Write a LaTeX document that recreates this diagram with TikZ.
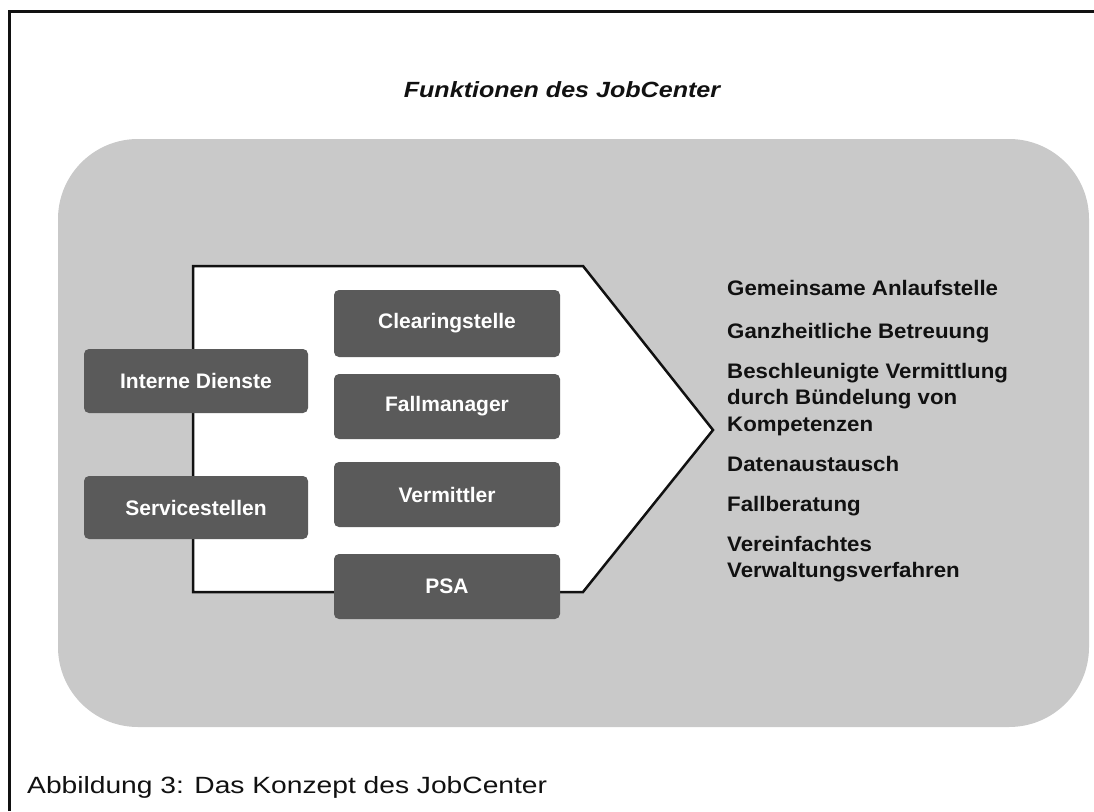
\documentclass[tikz,border=0pt]{standalone}
\usepackage{fontspec}
\setmainfont{Liberation Sans}
\newfontfamily\titlefont[FakeStretch=1.14]{Liberation Sans}
\newfontfamily\itemfont[FakeStretch=1.06]{Liberation Sans}
\newfontfamily\capfont[FakeStretch=1.2]{Liberation Sans}
\definecolor{panelgray}{HTML}{C9C9C9}
\definecolor{boxgray}{HTML}{5A5A5A}
\definecolor{inkblack}{HTML}{111111}
\tikzset{
  unitbox/.style={fill=boxgray, rounded corners=5pt, inner sep=0pt,
    text=white, font=\fontsize{21}{24}\selectfont\bfseries},
  item/.style={anchor=base west, inner sep=0pt, text=inkblack,
    font=\itemfont\fontsize{21}{26}\selectfont\bfseries},
}
\begin{document}
\begin{tikzpicture}[x=1pt, y=-1pt]
\useasboundingbox (0,0) rectangle (1094,811);
% outer frame
\draw[line width=3pt, draw=inkblack] (9,811) -- (9,11) -- (1094,11);
% title
\node[anchor=base, inner sep=0pt, text=inkblack,
  font=\titlefont\fontsize{22}{26}\selectfont\bfseries\itshape]
  (title) at (562,97) {Funktionen des JobCenter};
% grey panel
\fill[panelgray, rounded corners=80pt] (58,139) rectangle (1089,727);
% arrow-shaped white body
\draw[line width=2.5pt, fill=white, draw=inkblack]
  (193,266) -- (583,266) -- (713,430) -- (583,592) -- (193,592) -- cycle;
% units inside the JobCenter
\node[unitbox, minimum width=226pt, minimum height=67pt] (clear) at (447,323.5) {Clearingstelle};
\node[unitbox, minimum width=226pt, minimum height=65pt] (fall) at (447,406.5) {Fallmanager};
\node[unitbox, minimum width=226pt, minimum height=65pt] (verm) at (447,494.5) {Vermittler};
\node[unitbox, minimum width=226pt, minimum height=65pt] (psa) at (447,586.5) {PSA};
% services on the border
\node[unitbox, minimum width=224pt, minimum height=64pt] (intern) at (196,381) {Interne Dienste};
\node[unitbox, minimum width=224pt, minimum height=63pt] (service) at (196,507.5) {Servicestellen};
% list of functions
\node[item] (f1) at (727,295) {Gemeinsame Anlaufstelle};
\node[item] (f2) at (727,338) {Ganzheitliche Betreuung};
\node[item] (f3a) at (727,378) {Beschleunigte Vermittlung};
\node[item] (f3b) at (727,404) {durch Bündelung von};
\node[item] (f3c) at (727,431) {Kompetenzen};
\node[item] (f4) at (727,471) {Datenaustausch};
\node[item] (f5) at (727,511) {Fallberatung};
\node[item] (f6a) at (727,551) {Vereinfachtes};
\node[item] (f6b) at (727,577) {Verwaltungsverfahren};
% caption
\node[anchor=base west, inner sep=0pt, text=inkblack,
  font=\capfont\fontsize{23.5}{28}\selectfont]
  (caption) at (27,793) {Abbildung 3: Das Konzept des JobCenter};
\end{tikzpicture}
\end{document}
